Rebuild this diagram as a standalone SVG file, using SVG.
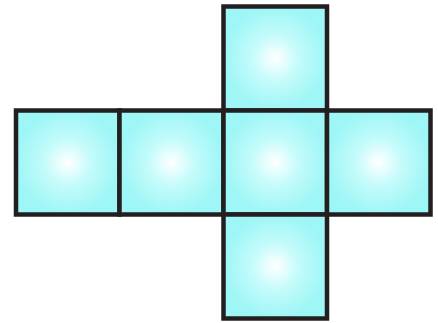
<svg xmlns="http://www.w3.org/2000/svg" width="438" height="323" viewBox="0 0 438 323">
<style>
.sq{fill:url(#g);stroke:#231f20;stroke-width:4.5;stroke-linejoin:miter}
</style>
<defs>
<radialGradient id="g" cx="0.5" cy="0.5" r="0.5">
<stop offset="0" stop-color="#ffffff"/>
<stop offset="0.45" stop-color="#c4fbfb"/>
<stop offset="1" stop-color="#9ef6f6"/>
</radialGradient>
</defs>
<rect width="438" height="323" fill="#ffffff"/>
<g id="top"><rect class="sq" x="223.5" y="6.5" width="103.5" height="104"/></g>
<g id="left"><rect class="sq" x="16" y="110.5" width="103.5" height="104"/></g>
<g id="midleft"><rect class="sq" x="119.5" y="110.5" width="104" height="104"/></g>
<g id="center"><rect class="sq" x="223.5" y="110.5" width="103.5" height="104"/></g>
<g id="right"><rect class="sq" x="327" y="110.5" width="103.5" height="104"/></g>
<g id="bottom"><rect class="sq" x="223.5" y="214.5" width="103.5" height="104"/></g>
</svg>
